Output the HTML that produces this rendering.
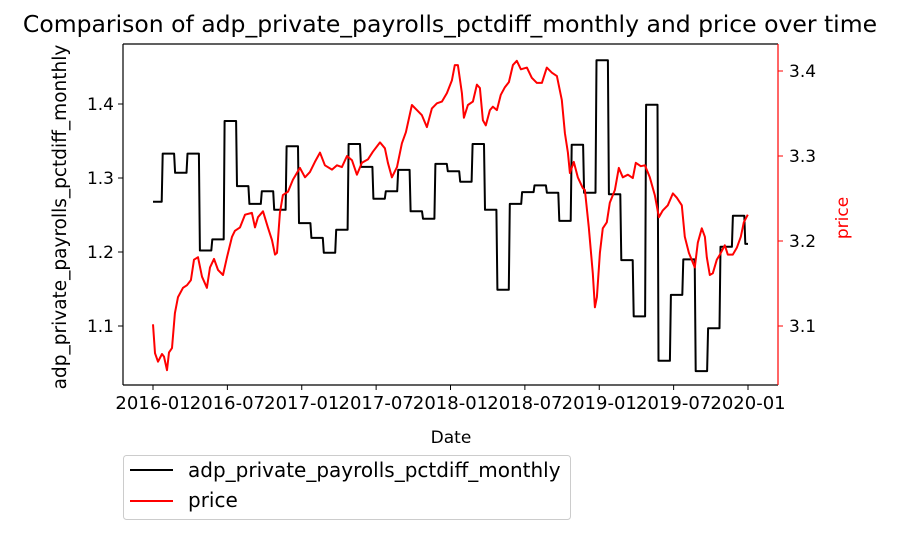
<!DOCTYPE html>
<html><head><meta charset="utf-8"><style>
body{margin:0;background:#fff;}
svg{display:block;font-family:"DejaVu Sans","Liberation Sans",sans-serif;}
</style></head><body>
<svg id="chart" width="901" height="534" viewBox="0 0 901 534">
<rect width="901" height="534" fill="#fff"/>
<text x="450" y="32" font-size="23.5" text-anchor="middle">Comparison of adp_private_payrolls_pctdiff_monthly and price over time</text>
<g id="plot"></g>
<text x="451" y="443" font-size="17" text-anchor="middle">Date</text>
<text transform="translate(66,217) rotate(-90)" font-size="18.5" text-anchor="middle">adp_private_payrolls_pctdiff_monthly</text>
<text transform="translate(848,218) rotate(-90)" font-size="17" fill="#f00" text-anchor="middle">price</text>
<g>
<rect x="123.5" y="455.5" width="447" height="64" rx="3" fill="#fff" stroke="#ccc"/>
<line x1="130" y1="470" x2="173" y2="470" stroke="#000" stroke-width="2"/>
<text x="188" y="477" font-size="20">adp_private_payrolls_pctdiff_monthly</text>
<line x1="130" y1="501" x2="173" y2="501" stroke="#f00" stroke-width="2"/>
<text x="188" y="507" font-size="20">price</text>
</g>
</svg>
<script>
const adpValues=[1.268,1.333,1.307,1.333,1.202,1.217,1.377,1.289,1.265,1.282,1.257,1.343,1.239,1.219,1.199,1.23,1.346,1.315,1.272,1.282,1.311,1.255,1.245,1.319,1.309,1.295,1.346,1.257,1.149,1.265,1.281,1.29,1.28,1.242,1.345,1.28,1.459,1.278,1.189,1.113,1.399,1.053,1.142,1.19,1.039,1.097,1.207,1.249,1.211];
const priceMonths=[0,0.16,0.40,0.73,0.89,1.13,1.29,1.53,1.77,2.02,2.42,2.74,3.06,3.31,3.63,3.95,4.35,4.60,4.92,5.24,5.65,5.97,6.37,6.61,7.02,7.42,7.98,8.23,8.47,8.87,9.27,9.60,9.84,10.0,10.24,10.48,10.89,11.29,11.85,12.26,12.66,13.06,13.47,13.87,14.44,14.84,15.24,15.65,16.05,16.45,16.85,17.34,17.74,18.31,18.71,18.95,19.27,19.68,20.08,20.40,20.89,21.29,21.69,22.10,22.50,22.90,23.31,23.71,24.11,24.35,24.60,24.92,25.08,25.40,25.81,26.13,26.37,26.61,26.85,27.18,27.42,27.74,28.06,28.39,28.71,29.03,29.35,29.68,30.16,30.56,30.97,31.37,31.77,32.18,32.58,32.98,33.23,33.47,33.63,33.95,34.27,34.68,34.84,35.16,35.48,35.65,35.81,36.05,36.29,36.61,36.85,37.26,37.58,37.90,38.31,38.71,38.95,39.35,39.68,40.08,40.48,40.81,41.13,41.53,41.94,42.26,42.66,42.90,43.23,43.71,43.95,44.27,44.52,44.68,44.92,45.16,45.48,45.73,46.13,46.37,46.77,47.10,47.42,47.66,47.98];
const priceValues=[3.102,3.068,3.058,3.067,3.064,3.048,3.069,3.074,3.115,3.134,3.145,3.148,3.154,3.178,3.181,3.158,3.145,3.169,3.179,3.166,3.160,3.181,3.205,3.212,3.216,3.231,3.233,3.216,3.228,3.235,3.216,3.201,3.184,3.186,3.233,3.254,3.258,3.272,3.286,3.275,3.281,3.293,3.304,3.289,3.284,3.289,3.287,3.300,3.295,3.278,3.292,3.296,3.305,3.316,3.309,3.292,3.275,3.287,3.315,3.328,3.360,3.354,3.348,3.334,3.356,3.362,3.364,3.374,3.389,3.407,3.407,3.374,3.345,3.360,3.364,3.384,3.380,3.342,3.336,3.354,3.358,3.354,3.372,3.381,3.387,3.407,3.412,3.402,3.404,3.392,3.386,3.386,3.404,3.398,3.394,3.366,3.327,3.304,3.280,3.293,3.275,3.262,3.260,3.216,3.162,3.122,3.134,3.186,3.215,3.222,3.245,3.260,3.286,3.275,3.278,3.274,3.292,3.288,3.289,3.275,3.254,3.228,3.236,3.242,3.256,3.251,3.242,3.205,3.186,3.169,3.198,3.215,3.205,3.181,3.160,3.162,3.178,3.184,3.195,3.184,3.184,3.192,3.205,3.222,3.231];
const xTickLabels=["2016-01","2016-07","2017-01","2017-07","2018-01","2018-07","2019-01","2019-07","2020-01"];
const xTickMonths=[0,6,12,18,24,30,36,42,48];
const leftTicks=[1.1,1.2,1.3,1.4];
const rightTicks=[3.1,3.2,3.3,3.4];

const NS="http://www.w3.org/2000/svg";
const L=123,R=778,T=44,B=385;
const x=m=>153+m*(595/48);
const yL=v=>326-(v-1.1)*740;
const yR=p=>326-(p-3.1)*850;
const g=document.getElementById('plot');
function mk(tag,attrs){const e=document.createElementNS(NS,tag);for(const k in attrs)e.setAttribute(k,attrs[k]);g.appendChild(e);return e;}

let pts=[];
adpValues.forEach((v,i)=>{
  const s=i===0?0:i-0.3+0.08, e=Math.min(i+0.7,48);
  pts.push(x(s).toFixed(1)+","+yL(v).toFixed(1));
  pts.push(x(e).toFixed(1)+","+yL(v).toFixed(1));
});
const adp=mk('polyline',{points:pts.join(' '),fill:'none',stroke:'#000','stroke-width':2,'stroke-linejoin':'round'});



const pr=mk('polyline',{points:priceMonths.map((m,i)=>x(m).toFixed(1)+","+yR(priceValues[i]).toFixed(1)).join(' '),fill:'none',stroke:'#f00','stroke-width':2,'stroke-linejoin':'round'});



const sp=[[L,T,R,T,'#000','top-spine'],[L,B,R,B,'#000','bottom-spine'],[L,T,L,B,'#000','left-spine'],[R,T,R,B,'#f00','right-spine']];
sp.forEach(s=>{const e=mk('line',{x1:s[0],y1:s[1],x2:s[2],y2:s[3],stroke:s[4],'stroke-width':1.2});

});

xTickMonths.forEach((m,i)=>{
  const t=mk('line',{x1:x(m),y1:B,x2:x(m),y2:B+5,stroke:'#000'});
  
  
  const tx=mk('text',{x:x(m),y:B+24,'font-size':18,'text-anchor':'middle'});
  tx.textContent=xTickLabels[i];
  
  
});
leftTicks.forEach(v=>{
  const t=mk('line',{x1:L-5,y1:yL(v),x2:L,y2:yL(v),stroke:'#000'});
  
  
  const tx=mk('text',{x:L-9,y:yL(v)+6,'font-size':17,'text-anchor':'end'});
  tx.textContent=v.toFixed(1);
  
  
});
rightTicks.forEach(v=>{
  const t=mk('line',{x1:R,y1:yR(v),x2:R+5,y2:yR(v),stroke:'#f00'});
  
  
  const tx=mk('text',{x:R+11,y:yR(v)+6,'font-size':17});
  tx.textContent=v.toFixed(1);
  
  
});
</script>
</body></html>
